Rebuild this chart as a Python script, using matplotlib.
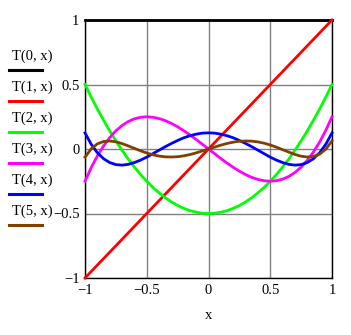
import numpy as np
import matplotlib.pyplot as plt
from matplotlib.lines import Line2D

plt.rcParams['font.family'] = ['Liberation Serif', 'DejaVu Serif']

x = [-1.0, -0.95, -0.9, -0.85, -0.8, -0.75, -0.7, -0.65, -0.6, -0.55, -0.5,
     -0.45, -0.4, -0.35, -0.3, -0.25, -0.2, -0.15, -0.1, -0.05, 0.0,
     0.05, 0.1, 0.15, 0.2, 0.25, 0.3, 0.35, 0.4, 0.45, 0.5,
     0.55, 0.6, 0.65, 0.7, 0.75, 0.8, 0.85, 0.9, 0.95, 1.0]

t0 = [1.0] * 41
t1 = list(x)
t2 = [0.5, 0.403, 0.31, 0.223, 0.14, 0.063, -0.01, -0.078, -0.14, -0.198, -0.25,
      -0.298, -0.34, -0.378, -0.41, -0.438, -0.46, -0.478, -0.49, -0.498, -0.5,
      -0.498, -0.49, -0.478, -0.46, -0.438, -0.41, -0.378, -0.34, -0.298, -0.25,
      -0.198, -0.14, -0.078, -0.01, 0.063, 0.14, 0.223, 0.31, 0.403, 0.5]
t3 = [-0.25, -0.145, -0.054, 0.023, 0.088, 0.141, 0.182, 0.213, 0.234, 0.246, 0.25,
      0.246, 0.236, 0.22, 0.198, 0.172, 0.142, 0.109, 0.074, 0.037, 0.0,
      -0.037, -0.074, -0.109, -0.142, -0.172, -0.198, -0.22, -0.236, -0.246, -0.25,
      -0.246, -0.234, -0.213, -0.182, -0.141, -0.088, -0.023, 0.054, 0.145, 0.25]
t4 = [0.125, 0.037, -0.029, -0.075, -0.105, -0.121, -0.125, -0.119, -0.105, -0.086, -0.063,
      -0.036, -0.009, 0.018, 0.043, 0.066, 0.087, 0.103, 0.115, 0.123, 0.125,
      0.123, 0.115, 0.103, 0.087, 0.066, 0.043, 0.018, -0.009, -0.036, -0.063,
      -0.086, -0.105, -0.119, -0.125, -0.121, -0.105, -0.075, -0.029, 0.037, 0.125]
t5 = [-0.063, 0.001, 0.04, 0.058, 0.062, 0.056, 0.042, 0.024, 0.005, -0.014, -0.031,
      -0.045, -0.055, -0.061, -0.062, -0.06, -0.053, -0.043, -0.03, -0.015, 0.0,
      0.015, 0.03, 0.043, 0.053, 0.06, 0.062, 0.061, 0.055, 0.045, 0.031,
      0.014, -0.005, -0.024, -0.042, -0.056, -0.062, -0.058, -0.04, -0.001, 0.063]

series = [t0, t1, t2, t3, t4, t5]
labels = ["T(0, x)", "T(1, x)", "T(2, x)", "T(3, x)", "T(4, x)", "T(5, x)"]
colors = ["#000000", "#ff0000", "#00ff00", "#ff00ff", "#0000ff", "#804000"]

ticks = [-1, -0.5, 0, 0.5, 1]
tick_labels = ["\u22121", "\u22120.5", "0", "0.5", "1"]

W, H = 351, 335
fig = plt.figure(figsize=(W / 100, H / 100), dpi=100)
ax = fig.add_axes([85 / W, 1 - 278 / H, (332 - 85) / W, (278 - 20) / H])

for ys, c in zip(series, colors):
    ax.plot(x, ys, color=c, linewidth=2, clip_on=False, zorder=3)

ax.set_xlim(-1, 1)
ax.set_ylim(-1, 1)
ax.set_xticks(ticks)
ax.set_yticks(ticks)
ax.set_xticklabels(tick_labels)
ax.set_yticklabels(tick_labels)
ax.tick_params(length=0, labelsize=10.5, pad=4)
ax.grid(True, color='#808080', linewidth=1)
for s in ax.spines.values():
    s.set_color('black')
    s.set_linewidth(1)
ax.set_xlabel("x", fontsize=10.5, labelpad=9)

# legend on the left: label text with a line sample below
for i, (lab, c) in enumerate(zip(labels, colors)):
    ty = 56 + 31 * i
    ly = 70 + 31 * i
    fig.text(12 / W, 1 - ty / H, lab, fontsize=10.5, va='center', ha='left')
    fig.add_artist(Line2D([9 / W, 42 / W], [1 - ly / H, 1 - ly / H],
                          color=c, linewidth=2.2, transform=fig.transFigure))

fig.savefig("out.png", dpi=100)
